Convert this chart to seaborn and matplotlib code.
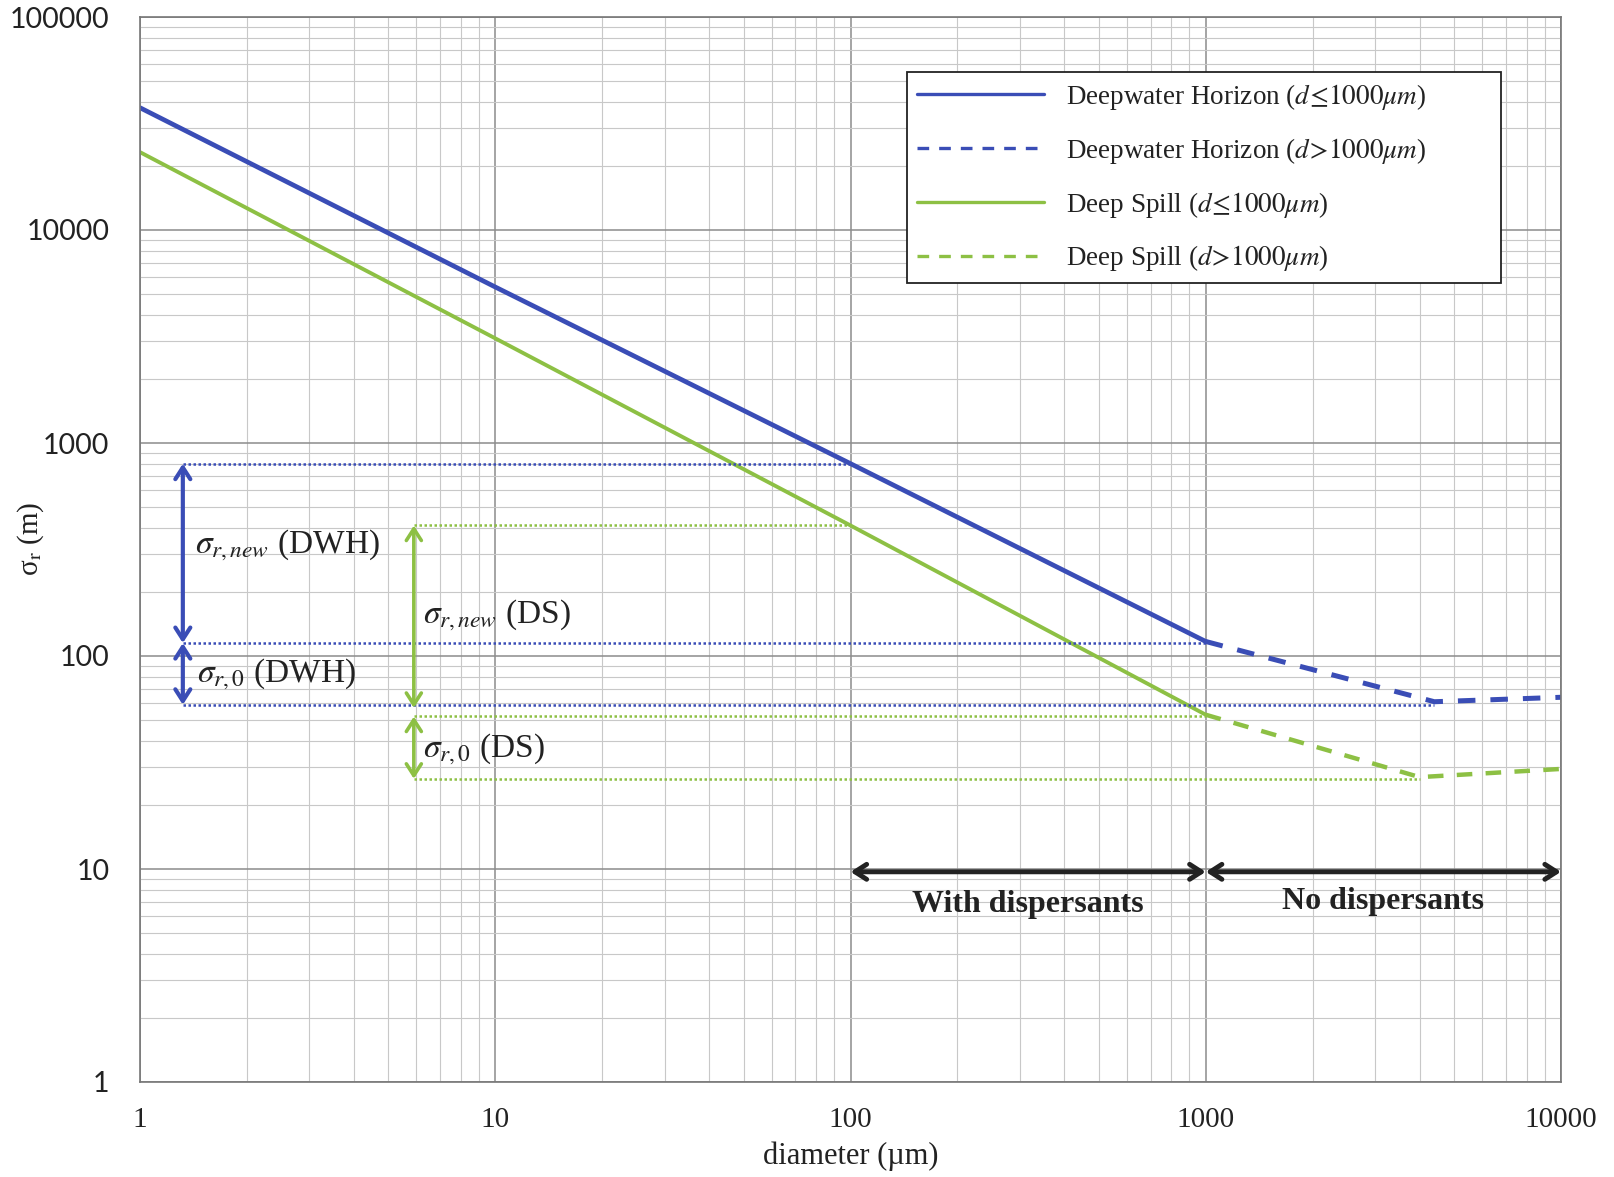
import numpy as np
import pandas as pd
import matplotlib
matplotlib.use("Agg")
import matplotlib.pyplot as plt
from matplotlib.ticker import FixedLocator, LogLocator, NullFormatter
import seaborn as sns

# ---- data ----
d_small = [1, 10, 100, 1000]
dwh_small = [37500, 5400, 800, 117]
ds_small = [23200, 3100, 410, 53]

d_large_dwh = [1000, 4400, 10000]
dwh_large = [117, 61, 64]
d_large_ds = [1000, 4000, 10000]
ds_large = [53, 27, 29.5]

# dotted reference levels
dwh_levels = [800, 115, 59]
dwh_level_end = [100, 1000, 4400]
dwh_level_start = 1.32
ds_levels = [410, 52, 26.5]
ds_level_end = [100, 1000, 4000]
ds_level_start = 5.9

x_ticks = [1, 10, 100, 1000, 10000]
x_ticklabels = ["1", "10", "100", "1000", "10000"]
y_ticks = [1, 10, 100, 1000, 10000, 100000]
y_ticklabels = ["1", "10", "100", "1000", "10000", "100000"]

legend_labels = [
    r"Deepwater Horizon ($d\!\leq\!1000\mu m$)",
    r"Deepwater Horizon ($d\!>\!1000\mu m$)",
    r"Deep Spill ($d\!\leq\!1000\mu m$)",
    r"Deep Spill ($d\!>\!1000\mu m$)",
]

BLUE = "#3A4DB6"
GREEN = "#8DC044"
DARK = "#222222"

sns.set_theme(style="white")
plt.rcParams["font.family"] = ["Liberation Serif", "DejaVu Serif"]
plt.rcParams["mathtext.fontset"] = "stix"

W, H = 1614, 1177
fig = plt.figure(figsize=(W / 100, H / 100), dpi=100)
L, R, T, B = 140, 1561, 17, 1082
ax = fig.add_axes([L / W, 1 - B / H, (R - L) / W, (B - T) / H])

# main curves
sns.lineplot(x=d_small, y=dwh_small, ax=ax, color=BLUE, lw=3.4, label=legend_labels[0], sort=False)
sns.lineplot(x=d_large_dwh, y=dwh_large, ax=ax, color=BLUE, lw=3.6, linestyle=(0, (3.5, 3)),
             label=legend_labels[1], sort=False)
sns.lineplot(x=d_small, y=ds_small, ax=ax, color=GREEN, lw=2.8, label=legend_labels[2], sort=False)
sns.lineplot(x=d_large_ds, y=ds_large, ax=ax, color=GREEN, lw=3.2, linestyle=(0, (3.5, 3)),
             label=legend_labels[3], sort=False)

# dotted levels
for lev, end in zip(dwh_levels, dwh_level_end):
    sns.lineplot(x=[dwh_level_start, end], y=[lev, lev], ax=ax, color=BLUE, lw=1.8,
                 linestyle=(0, (1, 1)), legend=False)
for lev, end in zip(ds_levels, ds_level_end):
    sns.lineplot(x=[ds_level_start, end], y=[lev, lev], ax=ax, color=GREEN, lw=1.8,
                 linestyle=(0, (1, 1)), legend=False)

ax.set_xscale("log")
ax.set_yscale("log")
ax.set_xlim(1, 10000)
ax.set_ylim(1, 100000)

# double arrows
def darrow(x0, y0, x1, y1, color, lw):
    ax.annotate("", xy=(x0, y0), xytext=(x1, y1),
                arrowprops=dict(arrowstyle="<->,head_length=0.7,head_width=0.45",
                                color=color, lw=lw, shrinkA=0, shrinkB=0))

darrow(dwh_level_start, dwh_levels[0], dwh_level_start, dwh_levels[1], BLUE, 3)
darrow(dwh_level_start, dwh_levels[1], dwh_level_start, dwh_levels[2], BLUE, 3)
darrow(ds_level_start, ds_levels[0], ds_level_start, 57, GREEN, 2.6)
darrow(ds_level_start, ds_levels[1], ds_level_start, ds_levels[2], GREEN, 2.6)

darrow(100, 9.7, 1000, 9.7, DARK, 3.5)
darrow(1000, 9.7, 10000, 9.7, DARK, 3.5)

txt_kw = dict(fontsize=24, color=DARK, va="center", ha="left")
ax.text(1.43, 330, r"$\sigma_{r,new}$ (DWH)", **txt_kw)
ax.text(1.45, 82, r"$\sigma_{r,0}$ (DWH)", **txt_kw)
ax.text(6.25, 155, r"$\sigma_{r,new}$ (DS)", **txt_kw)
ax.text(6.25, 36.5, r"$\sigma_{r,0}$ (DS)", **txt_kw)

ax.text(316, 6.8, "With dispersants", fontsize=23, fontweight="bold", ha="center", va="center",
        color=DARK, family=["Liberation Serif"])
ax.text(3160, 7.0, "No dispersants", fontsize=23, fontweight="bold", ha="center", va="center",
        color=DARK, family=["Liberation Serif"])

# ticks and grid
ax.xaxis.set_major_locator(FixedLocator(x_ticks))
ax.set_xticklabels(x_ticklabels)
ax.yaxis.set_major_locator(FixedLocator(y_ticks))
ax.set_yticklabels(y_ticklabels)
ax.xaxis.set_minor_locator(LogLocator(base=10, subs=np.arange(2, 10)))
ax.yaxis.set_minor_locator(LogLocator(base=10, subs=np.arange(2, 10)))
ax.xaxis.set_minor_formatter(NullFormatter())
ax.yaxis.set_minor_formatter(NullFormatter())

ax.tick_params(axis="both", which="minor", length=0)
ax.tick_params(axis="x", which="major", length=6, width=1, color="#666666", pad=12,
               labelsize=21, labelcolor=DARK)
ax.tick_params(axis="y", which="major", length=6, width=1, color="#666666", pad=16,
               labelsize=20.5, labelcolor=DARK)
for lab in ax.get_yticklabels():
    lab.set_family(["Lato", "DejaVu Sans"])

ax.grid(which="major", color="#8c8c8c", lw=1.1)
ax.grid(which="minor", color="#c8c8c8", lw=0.8)
ax.set_axisbelow(True)
for s in ax.spines.values():
    s.set_color("#777777")
    s.set_linewidth(1.2)

ax.set_xlabel("diameter (µm)", fontsize=22, color=DARK)
ax.set_ylabel(r"σ$_{\mathrm{r}}$ (m)", fontsize=21, color=DARK)
ax.xaxis.set_label_coords(0.5, -0.056)
ax.yaxis.set_label_coords(-0.066, 0.51)

leg = ax.legend(loc="upper left", bbox_to_anchor=(0.540, 0.752, 0.418, 0.196), mode="expand",
                fontsize=19.5, frameon=True, fancybox=False, edgecolor=DARK,
                handlelength=4.7, handletextpad=0.8, labelspacing=0.88, borderpad=0.35,
                borderaxespad=0)
leg.get_frame().set_linewidth(1.3)
leg.get_frame().set_alpha(1)
for t in leg.get_texts():
    t.set_color(DARK)
legh = leg.legend_handles if hasattr(leg, "legend_handles") else leg.legendHandles
for h in legh:
    h.set_linewidth(2.4)

fig.savefig("out.png", dpi=100)
